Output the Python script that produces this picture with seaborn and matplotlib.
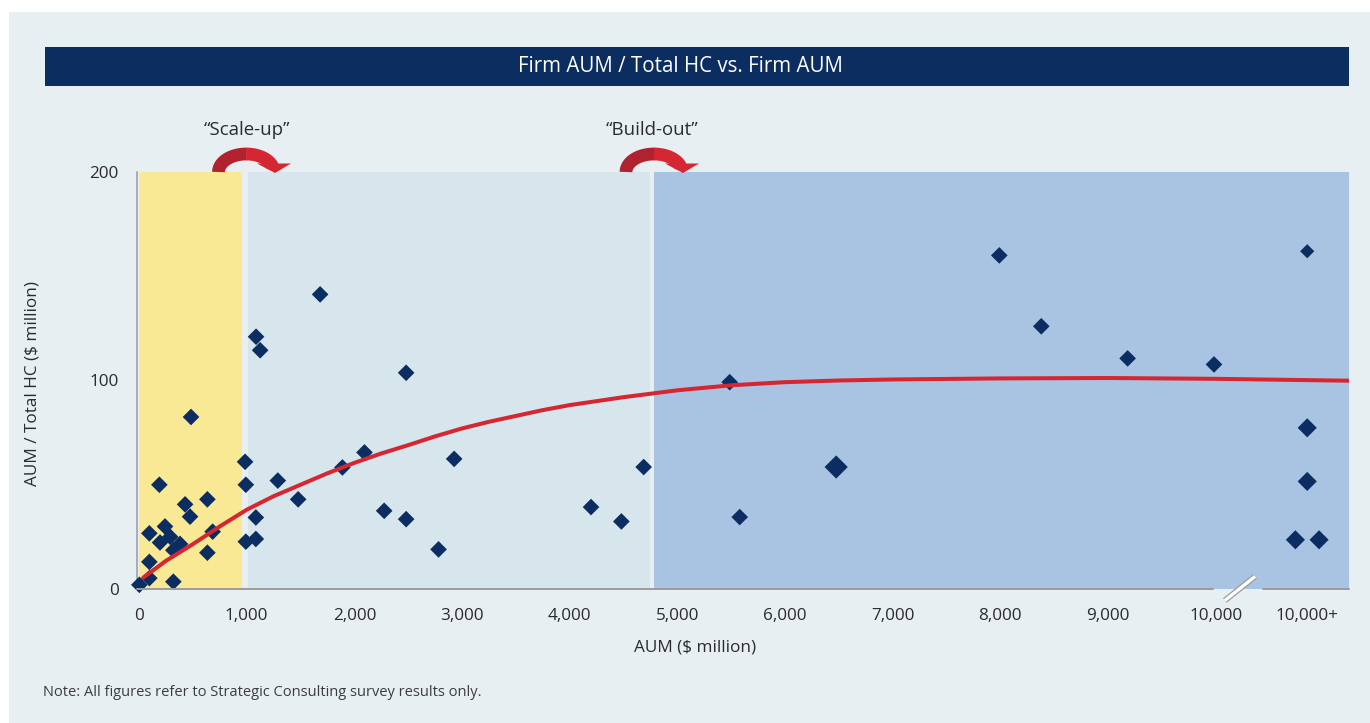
import numpy as np
import pandas as pd
import matplotlib
matplotlib.use("Agg")
import matplotlib.pyplot as plt
from matplotlib.patches import Rectangle, Polygon
from matplotlib.lines import Line2D
import matplotlib.transforms as mtransforms
import seaborn as sns

# ---------------------------------------------------------------- data
# Firms with AUM up to 10,000 ($ million): AUM and AUM per head
aum = [3, 96, 96, 319, 189, 96, 241, 195, 290, 381, 319, 428, 474, 483,
       635, 684, 635,
       985, 992, 992, 1085, 1085, 1087, 1125, 1289, 1478, 1682, 1889, 2094,
       2277, 2481, 2481, 2782, 2927, 4198, 4480, 4687, 5486, 5579, 6475,
       7990, 8380, 9182, 9984]
aum_per_hc = [2, 5.2, 13, 3.5, 50, 26.7, 30, 22.3, 25, 21.6, 18.6, 40.6, 34.7,
              82.5, 43, 27.5, 17.4,
              61, 50, 22.7, 24, 34.3, 121, 114.5, 52, 43, 141.3, 58.3, 65.5,
              37.5, 103.7, 33.5, 19, 62.4, 39.3, 32.4, 58.5, 99.2, 34.5, 58.5,
              160, 126, 110.6, 107.7]

# Firms above 10,000 ($ million), shown in the "10,000+" slot
aum_plus = [10850, 10850, 10850, 10740, 10960]
aum_per_hc_plus = [162, 77.3, 51.6, 23.6, 23.6]

# Trend line
trend_aum = [40, 250, 500, 750, 1000, 1250, 1500, 1750, 2000, 2250, 2500,
             2750, 3000, 3250, 3500, 3750, 4000, 4500, 5000, 5500, 6000,
             6500, 7000, 8000, 9000, 10000, 11238]
trend_val = [5.5, 13.5, 21.5, 30, 38, 44.5, 50, 55.5, 60.5, 65, 69, 73.2,
             77, 80.2, 83, 85.8, 88.2, 92, 95.3, 97.7, 99.2, 100, 100.5,
             101, 101.2, 100.8, 99.9]

# Stage bands along the AUM axis
stage_edges = [(0, 954), (1010, 4746), (4783, 11238)]

x_ticks = [0, 1000, 2000, 3000, 4000, 5000, 6000, 7000, 8000, 9000, 10000,
           10850]
x_tick_labels = ["0", "1,000", "2,000", "3,000", "4,000", "5,000", "6,000",
                 "7,000", "8,000", "9,000", "10,000", "10,000+"]
y_ticks = [0, 100, 200]

title = "Firm AUM / Total HC vs. Firm AUM"
note = "Note: All figures refer to Strategic Consulting survey results only."

# ---------------------------------------------------------------- style
BG = "#E8EFF3"
STAGE_COLORS = ["#F9E994", "#D7E5ED", "#A9C4E2"]
NAVY = "#0B2D62"
RED = "#D52731"
DARK_RED = "#B0222E"
AXIS_GRAY = "#9B9B9B"
TEXT = "#2B2B2B"

W, H = 1370, 723
sns.set_theme(style="white")
plt.rcParams["font.family"] = ["Open Sans", "DejaVu Sans"]

fig = plt.figure(figsize=(W / 100, H / 100), dpi=100, facecolor="white")


def fx(px):
    return px / W


def fy(py):
    return 1 - py / H


# panel background and title bar
fig.add_artist(Rectangle((fx(9), 0), 1 - fx(9), fy(12), transform=fig.transFigure,
                         facecolor=BG, edgecolor="none", zorder=-10))
fig.add_artist(Rectangle((fx(45), fy(86)), fx(1349) - fx(45), fy(47) - fy(86),
                         transform=fig.transFigure, facecolor="#0B2D60",
                         edgecolor="none", zorder=-5))
fig.text(fx(680), fy(66.5), title, color="white", fontsize=14.8,
         ha="center", va="center")

ax = fig.add_axes([fx(137.4), fy(589), fx(1349) - fx(137.4), fy(172) - fy(589)])
ax.set_facecolor(BG)
ax.set_xlim(-15, 11238)
ax.set_ylim(0, 200)

for (x0, x1), c in zip(stage_edges, STAGE_COLORS):
    ax.axvspan(x0, x1, color=c, lw=0, zorder=0)

# sizes of the diamond markers (points^2)
sizes_main = [72] * len(aum)
sizes_main[aum.index(6475)] = 140
sizes_plus = [52, 95, 95, 95, 95]

df = pd.DataFrame({
    "aum": aum + aum_plus,
    "ratio": aum_per_hc + aum_per_hc_plus,
})
sns.scatterplot(data=df, x="aum", y="ratio", marker="D", color=NAVY,
                s=sizes_main + sizes_plus, linewidth=0, ax=ax, zorder=3,
                clip_on=False, legend=False)

trend = pd.DataFrame({"aum": trend_aum, "val": trend_val})
sns.lineplot(data=trend, x="aum", y="val", color=RED, lw=2.9, ax=ax,
             zorder=4, sort=True, estimator=None)

# axes frame: left spine plus a broken bottom axis
for side in ["top", "right", "bottom"]:
    ax.spines[side].set_visible(False)
ax.spines["left"].set_color(AXIS_GRAY)
ax.spines["left"].set_linewidth(1.1)
xform = mtransforms.blended_transform_factory(ax.transData, ax.transAxes)
ax.plot([-15, 9978], [0, 0], color=AXIS_GRAY, lw=1.4, transform=xform,
        clip_on=False, zorder=5)
ax.plot([10440, 11238], [0, 0], color=AXIS_GRAY, lw=1.4, transform=xform,
        clip_on=False, zorder=5)
bx = [10085, 10365]
by = [-5.5, 6.0]
ax.plot(bx, by, color=AXIS_GRAY, lw=4.2, solid_capstyle="butt",
        clip_on=False, zorder=6)
ax.plot(bx, by, color="white", lw=2.4, solid_capstyle="butt",
        clip_on=False, zorder=7)

ax.set_xticks(x_ticks)
ax.set_xticklabels(x_tick_labels)
ax.set_yticks(y_ticks)
ax.tick_params(axis="both", length=0, labelsize=12.3, colors=TEXT)
ax.tick_params(axis="x", pad=14)
ax.tick_params(axis="y", pad=13.5)
ax.grid(False)

ax.set_xlabel("AUM ($ million)", fontsize=12.3, color=TEXT)
ax.xaxis.set_label_coords((695 - 137.4) / 1211.6, (589 - 648) / 417)
ax.xaxis.label.set_verticalalignment("center")
ax.set_ylabel("AUM / Total HC ($ million)", fontsize=12.3, color=TEXT)
ax.yaxis.set_label_coords((33 - 137.4) / 1211.6, (589 - 383) / 417)
ax.yaxis.label.set_verticalalignment("center")
ax.yaxis.label.set_horizontalalignment("center")


# stage-transition arrows above the plot: a half-ellipse band with a head
def stage_arrow(x_left, x_right, label, label_x):
    base, rise = 172, 18
    cx = (x_left + x_right) / 2
    a = (x_right - x_left) / 2
    for color, t0, t1 in [(DARK_RED, np.pi, np.pi / 2 - 0.02),
                          (RED, np.pi / 2, np.radians(18))]:
        t = np.linspace(t0, t1, 40)
        xs = [fx(cx + a * np.cos(v)) for v in t]
        ys = [fy(base - rise * np.sin(v)) for v in t]
        fig.add_artist(Line2D(xs, ys, color=color, lw=9.2,
                              solid_capstyle="butt", transform=fig.transFigure,
                              zorder=8))
    hx = x_right
    head = [(fx(hx - 17), fy(163.5)), (fx(hx + 17), fy(163.5)),
            (fx(hx + 1), fy(173))]
    fig.add_artist(Polygon(head, closed=True, facecolor=RED, edgecolor="none",
                           transform=fig.transFigure, zorder=9))
    fig.text(fx(label_x), fy(130), label, fontsize=13.4, color=TEXT,
             ha="center", va="center")


stage_arrow(218.5, 274, "\u201cScale-up\u201d", 247.5)
stage_arrow(626, 682, "\u201cBuild-out\u201d", 652.5)

fig.text(fx(43), fy(692), note, fontsize=10.5, color="#3C3C3C",
         ha="left", va="center")

fig.savefig("out.png", dpi=100, facecolor="white")
